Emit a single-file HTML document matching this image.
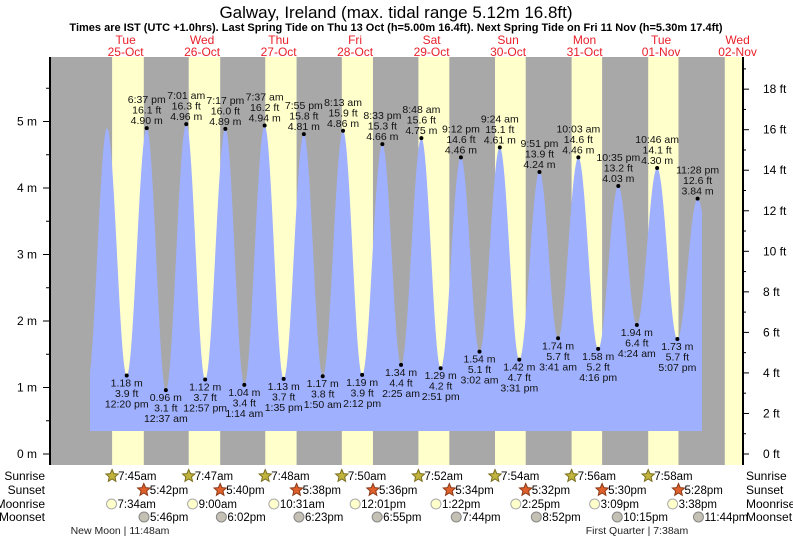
<!DOCTYPE html>
<html><head><meta charset="utf-8"><style>
body{margin:0;background:#fff;}
svg{display:block;font-family:"Liberation Sans",sans-serif;}
</style></head><body>
<svg id="c" width="793" height="539" viewBox="0 0 793 539">
<text x="396" y="18" font-size="17" text-anchor="middle" fill="#000">Galway, Ireland (max. tidal range 5.12m 16.8ft)</text>
<text x="396" y="31" font-size="11" font-weight="bold" text-anchor="middle">Times are IST (UTC +1.0hrs). Last Spring Tide on Thu 13 Oct (h=5.00m 16.4ft). Next Spring Tide on Fri 11 Nov (h=5.30m 17.4ft)</text>
<g id="bg"></g><g id="water"></g><g id="axes"></g><g id="labels"></g><g id="bottom"></g>
</svg>
<script>
const days=["Tue|25-Oct","Wed|26-Oct","Thu|27-Oct","Fri|28-Oct","Sat|29-Oct","Sun|30-Oct","Mon|31-Oct","Tue|01-Nov","Wed|02-Nov"];
const sunrise=["7:45am","7:47am","7:48am","7:50am","7:52am","7:54am","7:56am","7:58am","8:00am"];
const sunset=["5:42pm","5:40pm","5:38pm","5:36pm","5:34pm","5:32pm","5:30pm","5:28pm","5:26pm"];
const moonrise=["7:34am","9:00am","10:31am","12:01pm","1:22pm","2:25pm","3:09pm","3:38pm"];
const moonset=["5:46pm","6:02pm","6:23pm","6:55pm","7:44pm","8:52pm","10:15pm","11:44pm"];
// tide extremes: day index, time, height m, type, labelled?
const tideDay=[-1,0,0,0,1,1,1,1,2,2,2,2,3,3,3,3,4,4,4,4,5,5,5,5,6,6,6,6,7,7,7,7,8];
const tideTime=["11:59pm","6:10am","12:20pm","6:37pm","12:37am","7:01am","12:57pm","7:17pm","1:14am","7:37am","1:35pm","7:55pm","1:50am","8:13am","2:12pm","8:33pm","2:25am","8:48am","2:51pm","9:12pm","3:02am","9:24am","3:31pm","9:51pm","3:41am","10:03am","4:16pm","10:35pm","4:24am","10:46am","5:07pm","11:28pm","5:50am"];
const tideH=[1.05,4.9,1.18,4.90,0.96,4.96,1.12,4.89,1.04,4.94,1.13,4.81,1.17,4.86,1.19,4.66,1.34,4.75,1.29,4.46,1.54,4.61,1.42,4.24,1.74,4.46,1.58,4.03,1.94,4.30,1.73,3.84,2.0];
const tideLabel=[0,0,1,1,1,1,1,1,1,1,1,1,1,1,1,1,1,1,1,1,1,1,1,1,1,1,1,1,1,1,1,1,0];
const mTicks=[0,1,2,3,4,5];
const ftTicks=[0,2,4,6,8,10,12,14,16,18];
const moonPhases=[["New Moon | 11:48am",120],["First Quarter | 7:38am",637]];

const NS="http://www.w3.org/2000/svg";
const X0=87.4,PXH=3.187,L=50,R=743,T=57,B=465,BASE=431,WX0=90,WX1=702;
function pt(s){let m=s.match(/(\d+):(\d+)(am|pm)/);let h=+m[1]%12;if(m[3]=="pm")h+=12;return h+ +m[2]/60;}
function xt(d,s){return X0+(d*24+pt(s))*PXH;}
function ym(h){return 454-66.5*h;}
function yft(f){return 454-66.5*f*0.3048;}
function el(tag,attrs,parent,txt){const e=document.createElementNS(NS,tag);for(const k in attrs)e.setAttribute(k,attrs[k]);if(txt!==undefined)e.textContent=txt;parent.appendChild(e);return e;}
const bg=document.getElementById('bg'),water=document.getElementById('water'),axes=document.getElementById('axes'),labels=document.getElementById('labels'),bottom=document.getElementById('bottom');
let r=el('rect',{x:L,y:T,width:R-L,height:B-T,fill:'#a8a8a8'},bg);


days.forEach((d,i)=>{
  let x1=Math.max(L,xt(i,sunrise[i])),x2=Math.min(R,xt(i,sunset[i]));
  if(x2>x1){let b=el('rect',{x:x1,y:T,width:x2-x1,height:B-T,fill:'#ffffcc'},bg);
  
  }
  let cx=X0+(i*24+12)*PXH;const p=d.split('|');
  let t1=el('text',{x:cx,y:44,'font-size':12,fill:'#e8202a','text-anchor':'middle'},labels,p[0]);
  
  
  let t2=el('text',{x:cx,y:56,'font-size':12,fill:'#e8202a','text-anchor':'middle'},labels,p[1]);
  
  
});
// water curve
const ex=tideH.map((h,i)=>[xt(tideDay[i],tideTime[i]),h]);
function hAt(x){for(let i=0;i<ex.length-1;i++){if(x>=ex[i][0]&&x<=ex[i+1][0]){let f=(x-ex[i][0])/(ex[i+1][0]-ex[i][0]);return ex[i][1]+(ex[i+1][1]-ex[i][1])*(1-Math.cos(Math.PI*f))/2;}}return ex[ex.length-1][1];}
let d=`M${WX0},${BASE}`;for(let x=WX0;x<=WX1;x+=0.5)d+=`L${x},${ym(hAt(x)).toFixed(1)}`;d+=`L${WX1},${BASE}Z`;
let wp=el('path',{d:d,fill:'#9fb0ff'},water);


// labels
ex.forEach((e,i)=>{
  if(!tideLabel[i])return;
  const x=e[0],y=ym(e[1]),hi=e[1]>3,ft=(e[1]/0.3048).toFixed(1)+' ft',m=e[1].toFixed(2)+' m';
  const tm=tideTime[i].replace(/(am|pm)/,' $1');
  let c=el('circle',{cx:x,cy:y,r:2,fill:'#000'},labels);
  
  
  const lines=hi?[tm,ft,m]:[m,ft,tm];
  const y0=hi?y-25:y+11;
  lines.forEach((s,k)=>{let t=el('text',{x:x,y:y0+k*10.5,'font-size':10.5,fill:'#111','text-anchor':'middle'},labels,s);
  
  });
});
// axes
let a1=el('line',{x1:L,y1:T,x2:L,y2:B,stroke:'#000','stroke-width':2},axes);


let a2=el('line',{x1:R,y1:T,x2:R,y2:B,stroke:'#000','stroke-width':2},axes);


for(let h=0;h<=5.5;h+=0.5){const y=ym(h);el('line',{x1:h%1?46:43,y1:y,x2:L,y2:y,stroke:'#000'},axes);}
mTicks.forEach(v=>{let t=el('text',{x:37,y:ym(v)+4,'font-size':12,'text-anchor':'end'},axes,v+' m');

});
for(let f=0;f<=19;f++){const y=yft(f);el('line',{x1:R,y1:y,x2:R+(f%2?3:6),y2:y,stroke:'#000'},axes);}
ftTicks.forEach(v=>{let t=el('text',{x:763,y:yft(v)+4,'font-size':12},axes,v+' ft');

});
// bottom rows
const rows=[["Sunrise",476],["Sunset",490],["Moonrise",504],["Moonset",517]];
rows.forEach(rw=>{
  let a=el('text',{x:45,y:rw[1]+4,'font-size':12,'text-anchor':'end'},bottom,rw[0]);
  
  
  let b=el('text',{x:746,y:rw[1]+4,'font-size':12},bottom,rw[0]);
  
  
});
function star(x,y,fill,stroke){let p='';for(let k=0;k<10;k++){const a=-Math.PI/2+k*Math.PI/5,rr=k%2?3:6.5;p+=(x+rr*Math.cos(a)).toFixed(1)+','+(y+rr*Math.sin(a)).toFixed(1)+' ';}
  return el('polygon',{points:p,fill:fill,stroke:stroke,'stroke-width':1},bottom);}
for(let i=0;i<8;i++){
  let x=xt(i,sunrise[i]);let s=star(x,476,'#c0b43c','#7a6e20');
  
  
  let t=el('text',{x:x+6,y:480,'font-size':11.5},bottom,sunrise[i]);
  
  
  x=xt(i,sunset[i]);s=star(x,490,'#e0602c','#8a3a18');
  
  
  t=el('text',{x:x+6,y:494,'font-size':11.5},bottom,sunset[i]);
  
  
  x=xt(i,moonrise[i]);let c=el('circle',{cx:x,cy:504,r:5,fill:'#ffffcc',stroke:'#aaa'},bottom);
  
  
  t=el('text',{x:x+6,y:508,'font-size':11.5},bottom,moonrise[i]);
  
  
  x=xt(i,moonset[i]);c=el('circle',{cx:x,cy:517,r:5,fill:'#c4c0b4',stroke:'#888'},bottom);
  
  
  t=el('text',{x:x+6,y:521,'font-size':11.5},bottom,moonset[i]);
  
  
}
moonPhases.forEach(m=>{let t=el('text',{x:m[1],y:534,'font-size':10.5,'text-anchor':'middle',fill:'#222'},bottom,m[0]);

});
</script>
</body></html>
